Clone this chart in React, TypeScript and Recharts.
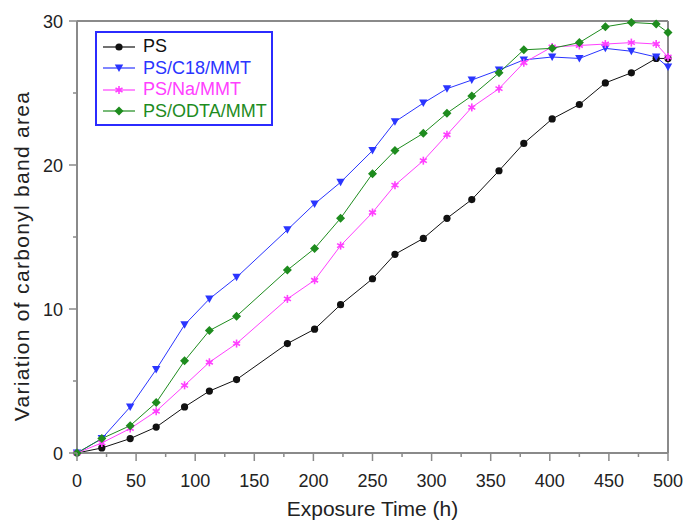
import { LineChart, Line, XAxis, YAxis, Legend, ReferenceLine, Label } from 'recharts'

// exposure time (h) at which the carbonyl band was measured
const hours = [0, 21, 45, 67, 91, 112, 135, 178, 201, 223, 250, 269, 293, 313, 334, 357, 378, 402, 425, 447, 469, 490, 500]

const ps = [0, 0.35, 1.0, 1.8, 3.2, 4.3, 5.1, 7.6, 8.6, 10.3, 12.1, 13.8, 14.9, 16.3, 17.6, 19.6, 21.5, 23.2, 24.2, 25.7, 26.4, 27.4, 27.4]
const psC18 = [0, 1.0, 3.2, 5.8, 8.9, 10.7, 12.2, 15.5, 17.3, 18.8, 21.0, 23.0, 24.3, 25.3, 25.9, 26.6, 27.3, 27.5, 27.4, 28.1, 27.9, 27.5, 26.8]
const psNa = [0, 0.7, 1.7, 2.9, 4.7, 6.3, 7.6, 10.7, 12.0, 14.4, 16.7, 18.6, 20.3, 22.1, 24.0, 25.3, 27.1, 28.2, 28.3, 28.4, 28.5, 28.4, 27.5]
const psOdta = [0, 1.0, 1.9, 3.5, 6.4, 8.5, 9.5, 12.7, 14.2, 16.3, 19.4, 21.0, 22.2, 23.6, 24.8, 26.4, 28.0, 28.1, 28.5, 29.6, 29.9, 29.8, 29.2]

const seriesNames = ['PS', 'PS/C18/MMT', 'PS/Na/MMT', 'PS/ODTA/MMT']

const xTicks = [0, 25, 50, 75, 100, 125, 150, 175, 200, 225, 250, 275, 300, 325, 350, 375, 400, 425, 450, 475, 500]
const yTicks = [0, 5, 10, 15, 20, 25, 30]

const data = hours.map((h, i) => ({
    hours: h,
    ps: ps[i],
    c18: psC18[i],
    na: psNa[i],
    odta: psOdta[i],
}))

const FONT = '"Liberation Sans", Arial, sans-serif'
const AXIS = '#8a8a8a'
const TEXT = '#222'

const BLACK = '#111111'
const BLUE = '#2a35ff'
const MAGENTA = '#ff40ff'
const GREEN = '#1e8c1e'

type Shape = 'circle' | 'triangle' | 'star' | 'diamond'

function marker(shape: Shape, cx: number, cy: number, color: string) {
    if (shape === 'circle') return <circle cx={cx} cy={cy} r={3.6} fill={color} />
    if (shape === 'triangle')
        return <polygon points={`${cx - 4.2},${cy - 3.5} ${cx + 4.2},${cy - 3.5} ${cx},${cy + 4}`} fill={color} />
    if (shape === 'diamond')
        return <polygon points={`${cx},${cy - 4.5} ${cx + 4.5},${cy} ${cx},${cy + 4.5} ${cx - 4.5},${cy}`} fill={color} />
    // asterisk-like star
    return (
        <g stroke={color} strokeWidth={1.6}>
            <line x1={cx} y1={cy - 4} x2={cx} y2={cy + 4} />
            <line x1={cx - 3.5} y1={cy - 2} x2={cx + 3.5} y2={cy + 2} />
            <line x1={cx - 3.5} y1={cy + 2} x2={cx + 3.5} y2={cy - 2} />
            <circle cx={cx} cy={cy} r={1.8} fill={color} stroke="none" />
        </g>
    )
}

const makeDot = (shape: Shape, color: string) => (props: any) => {
    const { cx, cy, index } = props
    if (cx == null || cy == null) return <g key={`d-${index}`} />
    return <g key={`d-${shape}-${index}`}>{marker(shape, cx, cy, color)}</g>
}

const XTick = (props: any) => {
    const { x, y, payload } = props
    const major = payload.value % 50 === 0
    return (
        <g>
            <line x1={x} y1={y} x2={x} y2={y + (major ? 8 : 4)} stroke={AXIS} strokeWidth={1.5} />
            {major && (
                <text x={x} y={y + 34} textAnchor="middle" fontSize={18} fontFamily={FONT} fill={TEXT}>
                    {payload.value}
                </text>
            )}
        </g>
    )
}

const YTick = (props: any) => {
    const { x, y, payload } = props
    const major = payload.value % 10 === 0
    return (
        <g>
            <line x1={x} y1={y} x2={x - (major ? 8 : 4)} y2={y} stroke={AXIS} strokeWidth={1.5} />
            {major && (
                <text x={x - 14} y={y + 6.5} textAnchor="end" fontSize={18} fontFamily={FONT} fill={TEXT}>
                    {payload.value}
                </text>
            )}
        </g>
    )
}

const legendRows: { key: string, shape: Shape, color: string }[] = [
    { key: 'ps', shape: 'circle', color: BLACK },
    { key: 'c18', shape: 'triangle', color: BLUE },
    { key: 'na', shape: 'star', color: MAGENTA },
    { key: 'odta', shape: 'diamond', color: GREEN },
]

const LegendBox = () => (
    <div
        style={{
            boxSizing: 'border-box',
            width: 178,
            height: 95,
            border: '2px solid #2b2bff',
            padding: '3px 0 0 4px',
            background: '#fff',
        }}
    >
        {legendRows.map((r, i) => (
            <div key={r.key} style={{ display: 'flex', alignItems: 'center', height: 21.5 }}>
                <svg width={36} height={14}>
                    <line x1={2} y1={7} x2={34} y2={7} stroke={r.color} strokeWidth={1.2} />
                    {marker(r.shape, 18, 7, r.color)}
                </svg>
                <span style={{ marginLeft: 6, fontSize: 18, fontFamily: FONT, color: r.color, lineHeight: '21px' }}>
                    {seriesNames[i]}
                </span>
            </div>
        ))}
    </div>
)

export default function App() {
    return (
        <div style={{ position: 'absolute', left: 0, top: 0, width: 685, height: 520, background: '#fff' }}>
            <LineChart width={685} height={520} data={data} margin={{ top: 21, right: 17, bottom: 0, left: 0 }}>
                <XAxis
                    dataKey="hours"
                    type="number"
                    domain={[0, 500]}
                    ticks={xTicks}
                    interval={0}
                    height={67}
                    tickSize={0}
                    tickMargin={0}
                    tickLine={false}
                    axisLine={{ stroke: AXIS, strokeWidth: 2 }}
                    tick={<XTick />}
                >
                    <Label
                        value="Exposure Time (h)"
                        position="insideBottom"
                        offset={4}
                        style={{ fontSize: 21, fontFamily: FONT, fill: TEXT }}
                    />
                </XAxis>
                <YAxis
                    type="number"
                    domain={[0, 30]}
                    ticks={yTicks}
                    interval={0}
                    width={77}
                    tickSize={0}
                    tickMargin={0}
                    tickLine={false}
                    axisLine={{ stroke: AXIS, strokeWidth: 2 }}
                    tick={<YTick />}
                >
                    <Label
                        content={({ viewBox }: any) => {
                            const { y, height } = viewBox || { y: 0, height: 0 }
                            const cx = 21
                            const cy = y + height / 2 + 19
                            return (
                                <text
                                    x={cx}
                                    y={cy}
                                    transform={`rotate(-90, ${cx}, ${cy})`}
                                    textAnchor="middle"
                                    dominantBaseline="central"
                                    fontSize={21}
                                    letterSpacing={1.3}
                                    fontFamily={FONT}
                                    fill={TEXT}
                                >
                                    Variation of carbonyl band area
                                </text>
                            )
                        }}
                    />
                </YAxis>
                <ReferenceLine y={30} stroke={AXIS} strokeWidth={2} />
                <ReferenceLine x={500} stroke={AXIS} strokeWidth={2} />
                <Legend
                    layout="horizontal"
                    verticalAlign="middle"
                    align="center"
                    content={<LegendBox />}
                    wrapperStyle={{ position: 'absolute', left: 95, top: 31, width: 178, height: 95 }}
                />
                <Line name={seriesNames[0]} dataKey="ps" stroke={BLACK} strokeWidth={1} dot={makeDot('circle', BLACK)} isAnimationActive={false} />
                <Line name={seriesNames[1]} dataKey="c18" stroke={BLUE} strokeWidth={1} dot={makeDot('triangle', BLUE)} isAnimationActive={false} />
                <Line name={seriesNames[2]} dataKey="na" stroke={MAGENTA} strokeWidth={1} dot={makeDot('star', MAGENTA)} isAnimationActive={false} />
                <Line name={seriesNames[3]} dataKey="odta" stroke={GREEN} strokeWidth={1} dot={makeDot('diamond', GREEN)} isAnimationActive={false} />
            </LineChart>
        </div>
    )
}
